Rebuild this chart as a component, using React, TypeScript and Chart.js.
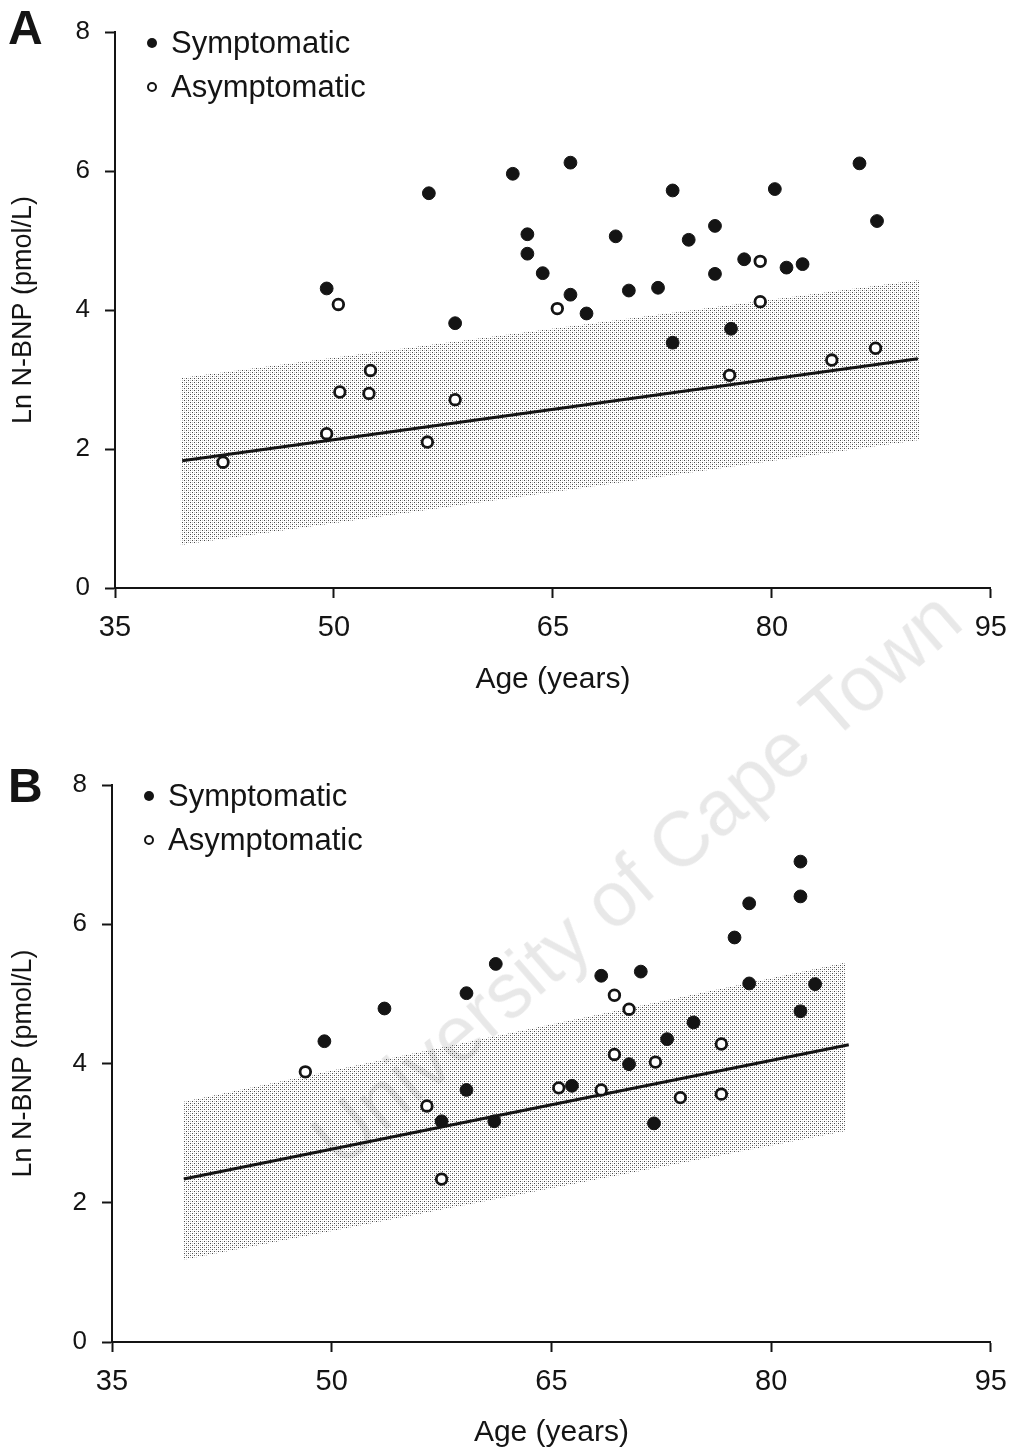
import React, { useEffect, useRef } from 'react';
import { Chart, registerables } from 'chart.js';

Chart.register(...registerables);

const FONT = '"Liberation Sans", Arial, Helvetica, sans-serif';
const INK = '#141414';

// ---------- Panel A data ----------
const symptomaticAgesA = [49.5, 56.5, 58.3, 62.25, 63.25, 63.25, 64.3, 66.2, 66.2, 67.3, 69.3, 70.2, 72.2, 73.2, 73.2, 74.3, 76.1, 76.1, 77.2, 78.1, 80.2, 81.0, 82.1, 86.0, 87.2];
const symptomaticValuesA = [4.31, 5.68, 3.81, 5.96, 5.09, 4.81, 4.53, 6.12, 4.22, 3.95, 5.06, 4.28, 4.32, 5.72, 3.53, 5.01, 5.21, 4.52, 3.73, 4.73, 5.74, 4.61, 4.66, 6.11, 5.28];
const asymptomaticAgesA = [42.4, 49.5, 50.3, 50.4, 52.4, 52.5, 56.4, 58.3, 65.3, 77.1, 79.2, 79.2, 84.1, 87.1];
const asymptomaticValuesA = [1.81, 2.22, 4.08, 2.82, 2.80, 3.13, 2.10, 2.71, 4.02, 3.06, 4.12, 4.70, 3.28, 3.45];
const bandAgesA = [39.5, 90.1];
const bandUpperA = [3.02, 4.43];
const bandLowerA = [0.62, 2.13];
const fitAgesA = [39.6, 90.0];
const fitValuesA = [1.83, 3.30];

// ---------- Panel B data ----------
const symptomaticAgesB = [49.5, 53.6, 57.5, 59.2, 59.2, 61.1, 61.2, 66.4, 68.4, 70.3, 71.1, 72.0, 72.9, 74.7, 77.5, 78.5, 78.5, 82.0, 82.0, 82.0, 83.0];
const symptomaticValuesB = [4.32, 4.79, 3.17, 5.01, 3.62, 3.17, 5.43, 3.68, 5.26, 3.99, 5.32, 3.14, 4.35, 4.59, 5.81, 6.30, 5.15, 6.90, 6.40, 4.75, 5.14];
const asymptomaticAgesB = [48.2, 56.5, 57.5, 65.5, 68.4, 69.3, 69.3, 70.3, 72.1, 73.8, 76.6, 76.6];
const asymptomaticValuesB = [3.88, 3.39, 2.34, 3.65, 3.62, 4.98, 4.13, 4.78, 4.02, 3.51, 4.28, 3.56];
const bandAgesB = [39.9, 85.1];
const bandUpperB = [3.45, 5.45];
const bandLowerB = [1.18, 3.03];
const fitAgesB = [39.9, 85.3];
const fitValuesB = [2.34, 4.27];

// ---------- Axes / labels ----------
const xTicks = [35, 50, 65, 80, 95];
const yTicks = [0, 2, 4, 6, 8];
const legendLabels = ['Symptomatic', 'Asymptomatic'];
const xTitle = 'Age (years)';
const yTitle = 'Ln N-BNP (pmol/L)';
const watermarkText = 'University of Cape Town';

const pts = (xs: number[], ys: number[]) => xs.map((x, i) => ({ x, y: ys[i] }));

function makeStipple(): CanvasPattern | string {
  const c = document.createElement('canvas');
  c.width = 4;
  c.height = 4;
  const g = c.getContext('2d');
  if (!g) return '#dddddd';
  g.fillStyle = '#ffffff';
  g.fillRect(0, 0, 4, 4);
  g.fillStyle = '#4a4a4a';
  g.fillRect(0, 0, 1, 1);
  g.fillRect(2, 2, 1, 1);
  g.fillStyle = '#c4c4c4';
  g.fillRect(2, 0, 1, 1);
  g.fillRect(0, 2, 1, 1);
  const p = g.createPattern(c, 'repeat');
  return p || '#dddddd';
}

const insideLegend = {
  id: 'insideLegend',
  afterDatasetsDraw(chart: any) {
    const { ctx, chartArea } = chart;
    ctx.save();
    ctx.font = `31px ${FONT}`;
    ctx.textBaseline = 'middle';
    ctx.textAlign = 'left';
    legendLabels.forEach((label, i) => {
      const y = chartArea.top + 11 + i * 44;
      const cx = chartArea.left + 37;
      ctx.beginPath();
      if (i === 0) {
        ctx.arc(cx, y, 5, 0, Math.PI * 2);
        ctx.fillStyle = INK;
        ctx.fill();
      } else {
        ctx.arc(cx, y, 4, 0, Math.PI * 2);
        ctx.lineWidth = 2;
        ctx.strokeStyle = INK;
        ctx.stroke();
      }
      ctx.fillStyle = INK;
      ctx.fillText(label, chartArea.left + 56, y + 1);
    });
    ctx.restore();
  },
};

type PanelProps = {
  top: number;
  height: number;
  left: number;
  right: number;
  padBottom: number;
  xAxisHeight: number;
  sympAges: number[];
  sympVals: number[];
  asymAges: number[];
  asymVals: number[];
  bandAges: number[];
  bandUpper: number[];
  bandLower: number[];
  fitAges: number[];
  fitVals: number[];
};

function Panel(props: PanelProps) {
  const ref = useRef<HTMLCanvasElement | null>(null);
  useEffect(() => {
    if (!ref.current) return;
    const stipple = makeStipple();
    const chart = new Chart(ref.current, {
      type: 'scatter',
      data: {
        datasets: [
          {
            label: legendLabels[0],
            data: pts(props.sympAges, props.sympVals),
            pointRadius: 6.4,
            pointBackgroundColor: INK,
            pointBorderColor: INK,
            pointBorderWidth: 1,
          },
          {
            label: legendLabels[1],
            data: pts(props.asymAges, props.asymVals),
            pointRadius: 5.3,
            pointBackgroundColor: '#ffffff',
            pointBorderColor: INK,
            pointBorderWidth: 2.8,
          },
          {
            label: 'fit',
            data: pts(props.fitAges, props.fitVals),
            showLine: true,
            pointRadius: 0,
            borderColor: INK,
            borderWidth: 3,
            fill: false,
          },
          {
            label: 'upper',
            data: pts(props.bandAges, props.bandUpper),
            showLine: true,
            pointRadius: 0,
            borderWidth: 0,
            borderColor: 'rgba(0,0,0,0)',
            backgroundColor: stipple as any,
            fill: '+1',
          },
          {
            label: 'lower',
            data: pts(props.bandAges, props.bandLower),
            showLine: true,
            pointRadius: 0,
            borderWidth: 0,
            borderColor: 'rgba(0,0,0,0)',
            fill: false,
          },
        ] as any,
      },
      options: {
        animation: false,
        responsive: false,
        devicePixelRatio: 1,
        events: [],
        layout: { padding: { left: 0, top: 32, right: props.right, bottom: props.padBottom } },
        plugins: { legend: { display: false }, tooltip: { enabled: false } },
        scales: {
          x: {
            type: 'linear',
            min: 35,
            max: 95,
            afterBuildTicks: (s: any) => {
              s.ticks = xTicks.map((v) => ({ value: v }));
            },
            afterFit: (s: any) => {
              s.height = props.xAxisHeight;
            },
            border: { display: true, color: INK, width: 2 },
            grid: {
              display: true,
              drawOnChartArea: false,
              drawTicks: true,
              tickLength: 10,
              tickWidth: 2,
              tickColor: INK,
              color: INK,
            },
            ticks: { font: { family: FONT, size: 29 }, color: INK, padding: 13, maxRotation: 0, autoSkip: false },
            title: { display: true, text: xTitle, font: { family: FONT, size: 30 }, color: INK, padding: 0 },
          },
          y: {
            type: 'linear',
            min: 0,
            max: 8,
            afterBuildTicks: (s: any) => {
              s.ticks = yTicks.map((v) => ({ value: v }));
            },
            afterFit: (s: any) => {
              s.width = props.left;
            },
            border: { display: true, color: INK, width: 2 },
            grid: {
              display: true,
              drawOnChartArea: false,
              drawTicks: true,
              tickLength: 10,
              tickWidth: 2,
              tickColor: INK,
              color: INK,
            },
            ticks: { font: { family: FONT, size: 26 }, color: INK, padding: 15 },
            title: { display: true, text: yTitle, font: { family: FONT, size: 27 }, color: INK, padding: { top: 7, bottom: 0 } },
          },
        },
      } as any,
      plugins: [insideLegend],
    });
    return () => chart.destroy();
  }, []);
  return (
    <canvas
      ref={ref}
      width={1020}
      height={props.height}
      style={{ position: 'absolute', left: 0, top: props.top, width: 1020, height: props.height }}
    />
  );
}

const letterStyle: React.CSSProperties = {
  position: 'absolute',
  left: 8,
  fontFamily: FONT,
  fontWeight: 'bold',
  fontSize: 48,
  lineHeight: 1,
  color: INK,
};

export default function App() {
  return (
    <div
      style={{
        position: 'absolute',
        left: 0,
        top: 0,
        width: 1020,
        height: 1451,
        overflow: 'hidden',
        background: '#ffffff',
      }}
    >
      <Panel
        top={0}
        height={720}
        left={115}
        right={20}
        padBottom={22}
        xAxisHeight={110}
        sympAges={symptomaticAgesA}
        sympVals={symptomaticValuesA}
        asymAges={asymptomaticAgesA}
        asymVals={asymptomaticValuesA}
        bandAges={bandAgesA}
        bandUpper={bandUpperA}
        bandLower={bandLowerA}
        fitAges={fitAgesA}
        fitVals={fitValuesA}
      />
      <Panel
        top={753}
        height={698}
        left={112}
        right={21}
        padBottom={0}
        xAxisHeight={109}
        sympAges={symptomaticAgesB}
        sympVals={symptomaticValuesB}
        asymAges={asymptomaticAgesB}
        asymVals={asymptomaticValuesB}
        bandAges={bandAgesB}
        bandUpper={bandUpperB}
        bandLower={bandLowerB}
        fitAges={fitAgesB}
        fitVals={fitValuesB}
      />
      <div style={{ ...letterStyle, top: 4 }}>A</div>
      <div style={{ ...letterStyle, top: 762 }}>B</div>
      <div
        style={{
          position: 'absolute',
          left: 636,
          top: 878,
          transform: 'translate(-50%, -50%) rotate(-41deg)',
          fontFamily: FONT,
          fontSize: 77,
          lineHeight: 1,
          whiteSpace: 'nowrap',
          color: 'rgba(0,0,0,0.09)',
          pointerEvents: 'none',
        }}
      >
        {watermarkText}
      </div>
    </div>
  );
}
